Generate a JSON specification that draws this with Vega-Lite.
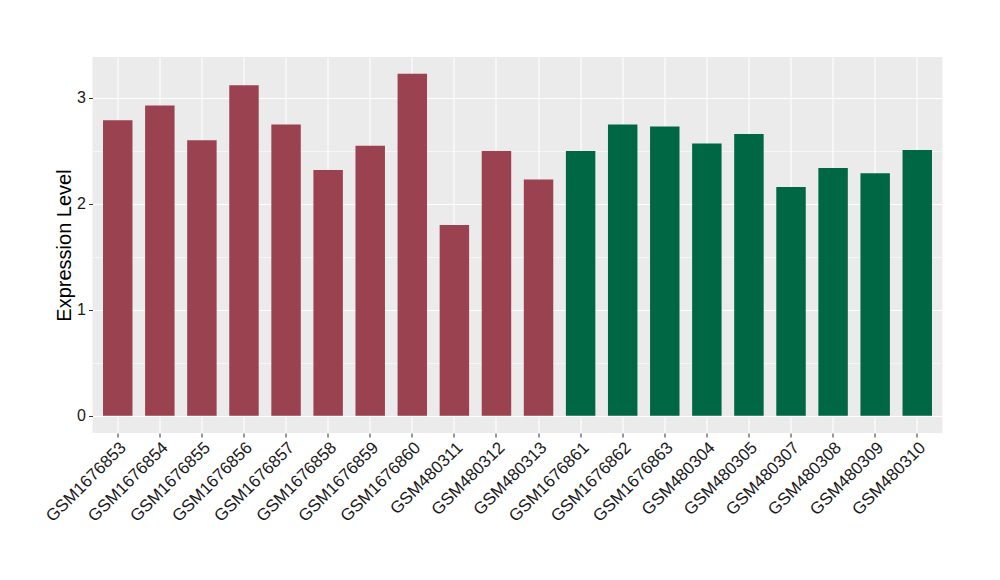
{
  "$schema": "https://vega.github.io/schema/vega-lite/v6.json",
  "width": 850,
  "height": 376,
  "autosize": {"type": "none"},
  "padding": {"left": 92.5, "top": 57, "right": 57.5, "bottom": 147},
  "background": "white",
  "config": {
    "view": {"fill": "#EBEBEB", "stroke": null},
    "font": "Liberation Sans",
    "axis": {"domain": false, "gridColor": "white", "labelFont": "Liberation Sans", "titleFont": "Liberation Sans"}
  },
  "data": {
    "values": [
      {"sample": "GSM1676853", "value": 2.79, "group": "A"},
      {"sample": "GSM1676854", "value": 2.93, "group": "A"},
      {"sample": "GSM1676855", "value": 2.60, "group": "A"},
      {"sample": "GSM1676856", "value": 3.12, "group": "A"},
      {"sample": "GSM1676857", "value": 2.75, "group": "A"},
      {"sample": "GSM1676858", "value": 2.32, "group": "A"},
      {"sample": "GSM1676859", "value": 2.55, "group": "A"},
      {"sample": "GSM1676860", "value": 3.23, "group": "A"},
      {"sample": "GSM480311", "value": 1.80, "group": "A"},
      {"sample": "GSM480312", "value": 2.50, "group": "A"},
      {"sample": "GSM480313", "value": 2.23, "group": "A"},
      {"sample": "GSM1676861", "value": 2.50, "group": "B"},
      {"sample": "GSM1676862", "value": 2.75, "group": "B"},
      {"sample": "GSM1676863", "value": 2.73, "group": "B"},
      {"sample": "GSM480304", "value": 2.57, "group": "B"},
      {"sample": "GSM480305", "value": 2.66, "group": "B"},
      {"sample": "GSM480307", "value": 2.16, "group": "B"},
      {"sample": "GSM480308", "value": 2.34, "group": "B"},
      {"sample": "GSM480309", "value": 2.29, "group": "B"},
      {"sample": "GSM480310", "value": 2.51, "group": "B"}
    ]
  },
  "mark": {"type": "bar"},
  "encoding": {
    "x": {
      "field": "sample",
      "type": "nominal",
      "sort": null,
      "scale": {"paddingInner": 0.3, "paddingOuter": 0.25},
      "axis": {
        "title": null,
        "grid": true,
        "labelAngle": -45,
        "labelAlign": "right",
        "labelBaseline": "top",
        "labelFontSize": 17,
        "labelColor": "#1a1a1a",
        "labelPadding": 2,
        "tickColor": "#333333",
        "tickSize": 4,
        "tickWidth": 1,
        "gridWidth": 1.1,
        "bandPosition": 0.5
      }
    },
    "y": {
      "field": "value",
      "type": "quantitative",
      "scale": {"domain": [-0.163, 3.387], "nice": false, "zero": false},
      "axis": {
        "title": "Expression Level",
        "titleFontSize": 20,
        "titleFontWeight": "normal",
        "titleColor": "black",
        "titlePadding": 2,
        "values": [0, 0.5, 1, 1.5, 2, 2.5, 3],
        "labelExpr": "datum.value % 1 === 0 ? format(datum.value, 'd') : ''",
        "labelFontSize": 16,
        "labelColor": "#1a1a1a",
        "labelPadding": 3,
        "tickSize": 4,
        "tickColor": {"condition": {"test": "datum.value % 1 !== 0", "value": "transparent"}, "value": "#333333"},
        "gridWidth": {"condition": {"test": "datum.value % 1 !== 0", "value": 0.55}, "value": 1.1}
      }
    },
    "color": {
      "field": "group",
      "type": "nominal",
      "scale": {"domain": ["A", "B"], "range": ["#9A4250", "#006745"]},
      "legend": null
    }
  }
}
